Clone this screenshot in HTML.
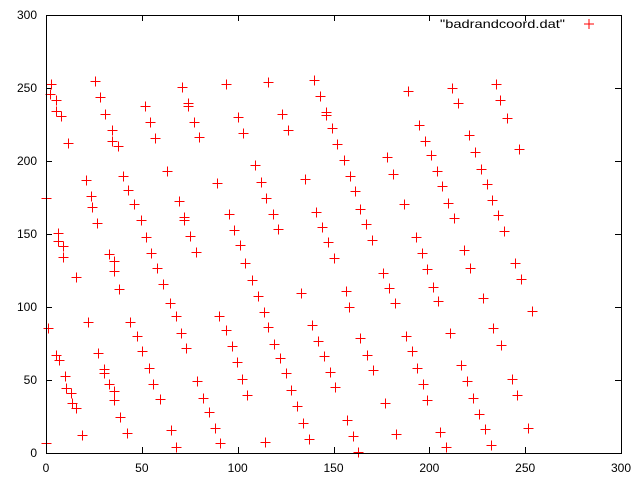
<!DOCTYPE html>
<html><head><meta charset="utf-8"><style>
html,body{margin:0;padding:0;background:#fff;}
svg text{font-family:"Liberation Sans",sans-serif;font-size:12px;}
</style></head><body>
<svg id="chart" width="640" height="480" xmlns="http://www.w3.org/2000/svg">
<rect x="0" y="0" width="640" height="480" fill="#fff"/>
<g id="axes"></g>
<g id="points"></g>
<g>
<text x="565" y="28" text-anchor="end" textLength="125" lengthAdjust="spacingAndGlyphs">"badrandcoord.dat"</text>
<path d="M584 24h10M589 19v10" stroke="#f00" stroke-width="1"/>
</g>
<rect x="46.5" y="15.5" width="575" height="438" fill="none" stroke="#000"/>
</svg>
<script>
const xTicks=[0,50,100,150,200,250,300];
const yTicks=[0,50,100,150,200,250,300];
const xs=[0,1,0,2.6,2,5,5,8,6,6,9,9,11.5,5,7,10,10.4,13,13.6,15.7,15.7,21,23.5,24,26.6,22,19,25.6,28,31,34.4,34.4,37.6,40,43,46,49.6,52,55,58,61,33,35.5,35.5,38,27,30,30,33,35.5,35.5,38.6,42,44,47.5,50,53.7,56,59.5,51.7,54,57,63,64.7,67.8,65,68,71,74,74,77,80,69.4,72,72,75,78,70.4,73,79,82,85,88,89,90,91,94,95.5,94,97,99.7,102,105,100,103,98,101,104,107.5,110.6,113.7,109,112,115,118.4,121,114,116,116,119,122,125,128,131,134,137,123,126,133,135,140,143,146,146,149,152,141,144,147,150,139,142,145,148,151,155.5,156.5,158,157,160,163,158.6,161,164,167,170,164,167.5,170.6,176,179,182,177,182.6,178,181,187,189,188,191,193.6,196.7,199,193,196,199,202,204.5,194.6,197.7,201,204,206.6,209.7,212.9,205.6,208.7,211,212,215,216.5,218,219.6,220.7,221,222.8,224,226,227,228,229,230,232,232.7,233,234.8,235.8,237,237.4,239,240.5,243,244.7,245.7,246.8,248,251.5,253.6];
const ys=[174.6,85.6,7,252.7,246,242,234,231,151,145,142,134,212,67,64,53,44.5,41,34,31,120.5,187,176,168.5,157.5,90,12,255,244,232,221,214,210,190,180,170.5,159.6,148,137,127,116,136,131.5,125,112,68.5,57.5,55,47,42.5,36,24.7,13.7,90,80,70,58,47,37,237.7,226.7,215.7,193,103,94,15.8,4,250.7,240,237.7,227,216.4,172.6,161.6,159.6,148.6,138,82,72,49,38,28,17,185,94,7,252.7,163.7,84,73,62,51,40,230,219,152.7,142.5,130,118.5,107.5,96.6,197,185.6,174.6,164,153.4,7.5,254,86,75,65,55,43,32,20.5,9.6,232,221,109.6,188,255.5,244.5,233.6,231.5,222.6,211.6,165,155,144.5,133.6,88,77,66.4,55.5,45,200.7,111,100,22.6,11.6,0.7,190,179.5,167,157,146,78.8,67,57,123,113,103,34,13,202.7,191,170.5,248,80,70,58,47,36,148,137,126,114,104,224.7,214,204,193,183,171,161,14.4,4,82,250,240,60,139,49,218,127,38,206,27,194.5,106,16.4,184,5.5,173,85.6,252.7,163,242,74,152,229.5,51,130,40,208,119,17,97];
const X0=46,X1=621,Y0=453,Y1=15;
function sx(v){return X0+(v-0)*(X1-X0)/300;}
function sy(v){return Y0-(v-0)*(Y0-Y1)/300;}
const NS='http://www.w3.org/2000/svg';
const ax=document.getElementById('axes');
xTicks.forEach(t=>{
  const x=Math.round(sx(t))+0.5;
  const p=document.createElementNS(NS,'path');
  p.setAttribute('d',`M${x} ${Y0}v-6M${x} ${Y1}v6`);
  p.setAttribute('stroke','#000');
  
  
  ax.appendChild(p);
  const tx=document.createElementNS(NS,'text');
  tx.setAttribute('x',sx(t));tx.setAttribute('y',472);tx.setAttribute('text-anchor','middle');
  tx.textContent=t;
  
  
  ax.appendChild(tx);
});
yTicks.forEach(t=>{
  const y=Math.round(sy(t))+0.5;
  const p=document.createElementNS(NS,'path');
  p.setAttribute('d',`M${X0} ${y}h6M${X1} ${y}h-6`);
  p.setAttribute('stroke','#000');
  
  
  ax.appendChild(p);
  const tx=document.createElementNS(NS,'text');
  tx.setAttribute('x',37);tx.setAttribute('y',sy(t)+4);tx.setAttribute('text-anchor','end');
  tx.textContent=t;
  
  
  ax.appendChild(tx);
});
const pg=document.getElementById('points');
xs.forEach((v,i)=>{
  const x=Math.round(sx(v))+0.5,y=Math.round(sy(ys[i]))+0.5;
  const p=document.createElementNS(NS,'path');
  p.setAttribute('d',`M${x-5} ${y}h10M${x} ${y-5}v10`);
  p.setAttribute('stroke','#f00');
  
  
  pg.appendChild(p);
});
</script>
</body></html>
